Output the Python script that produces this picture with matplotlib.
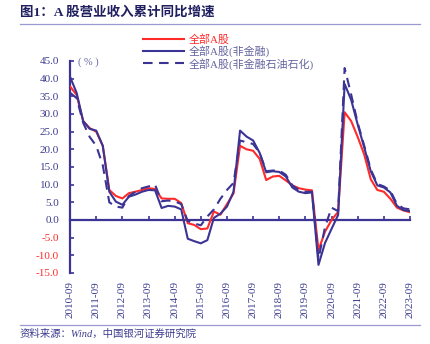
import numpy as np
import pandas as pd
import matplotlib
matplotlib.use("Agg")
import matplotlib.pyplot as plt
from matplotlib.lines import Line2D

plt.rcParams['font.family'] = ['Liberation Serif', 'Noto Sans CJK SC', 'DejaVu Sans']
plt.rcParams['axes.unicode_minus'] = True

# ---------------- data ----------------
quarters = [str(p.end_time.strftime('%Y-%m')) for p in pd.period_range('2010Q3', '2023Q3', freq='Q')]
series_names = ['全部A股', '全部A股(非金融)', '全部A股(非金融石油石化)']

all_a = [37.8, 35.4, 28.0, 26.0, 25.0, 21.0, 8.5, 6.8, 6.1, 7.6, 8.0, 8.5, 9.0, 8.8,
         6.1, 6.0, 6.0, 4.8, -0.9, -1.4, -2.6, -2.4, 2.4, 1.5, 4.5, 7.5,
         21.0, 20.0, 19.6, 17.3, 11.3, 12.3, 12.5, 11.2, 9.8, 9.0, 8.6, 8.4,
         -8.5, -3.3, 0.0, 2.3, 30.5, 28.0, 23.5, 18.5, 11.5, 8.5, 8.0, 6.0, 3.5, 2.7, 2.2]
non_fin = [40.5, 36.0, 28.0, 25.8, 25.3, 21.0, 8.0, 5.2, 4.3, 6.6, 7.2, 8.0, 8.5, 8.4,
           3.4, 4.0, 3.8, 3.0, -5.3, -6.0, -6.6, -5.7, 0.6, 1.8, 3.8, 8.0,
           25.3, 23.6, 22.5, 19.0, 13.5, 13.8, 13.6, 12.3, 9.2, 8.0, 7.6, 7.8,
           -12.7, -6.5, -2.5, 1.4, 38.5, 34.0, 27.0, 20.5, 13.8, 9.8, 9.2, 7.8, 4.0, 2.8, 2.5]
non_fin_ex_petro = [36.0, 34.5, 27.5, 23.5, 21.0, 15.5, 5.0, 3.8, 3.5, 6.8, 8.0, 9.0, 9.5, 10.0,
                    5.3, 5.5, 5.3, 4.5, -0.3, -1.0, -1.5, 1.0, 3.0, 6.0, 8.5, 10.5,
                    22.5, 22.0, 21.5, 19.0, 13.8, 14.0, 14.0, 12.8, 9.8, 8.5, 8.0, 8.0,
                    -11.0, -2.0, 3.5, 2.5, 43.0, 35.5, 27.5, 21.0, 14.3, 10.2, 9.5, 8.3, 4.5, 3.3, 3.0]
y_ticks = [-15, -10, -5, 0, 5, 10, 15, 20, 25, 30, 35, 40, 45]

# ---------------- style ----------------
RED = '#FF2A2A'
NAVY = '#3B3494'
TEXT_NAVY = '#3D3D8F'
LEG_GREY = '#6464A0'

fig = plt.figure(figsize=(4.3, 3.44), dpi=100)
ax = fig.add_axes([0.163, 0.2064, 0.7905, 0.6163])

x = np.arange(len(quarters))
ax.plot(x, all_a, color=RED, lw=1.5, label=series_names[0], zorder=3)
ax.plot(x, non_fin, color=NAVY, lw=1.5, label=series_names[1], zorder=4)
ax.plot(x, non_fin_ex_petro, color=NAVY, lw=1.5, ls=(0, (4.6, 3.1)),
        label=series_names[2], zorder=5)

ax.set_xlim(0, len(quarters) - 1)
ax.set_ylim(-15, 45)
ax.set_yticks(y_ticks)
ax.set_yticklabels([f'{v:.1f}' for v in y_ticks])
for lab, v in zip(ax.get_yticklabels(), y_ticks):
    lab.set_color(RED if v < 0 else TEXT_NAVY)
ax.tick_params(axis='y', direction='in', length=3, width=1.2, color=NAVY,
               labelsize=8, pad=8)

ax.set_xticks(x[::4])
ax.set_xticklabels([quarters[i] for i in range(0, len(quarters), 4)], rotation=90)
ax.tick_params(axis='x', length=0, pad=6, labelsize=8, labelcolor=TEXT_NAVY)

for s in ['top', 'right', 'bottom']:
    ax.spines[s].set_visible(False)
ax.spines['left'].set_color(NAVY)
ax.spines['left'].set_linewidth(1.6)

# zero line with year ticks
sec = ax.secondary_xaxis(15 / 60)
sec.set_xticks(x[::4])
sec.tick_params(axis='x', direction='in', length=3, width=1.2, color=NAVY,
                labelbottom=False, labeltop=False)
for s in sec.spines.values():
    s.set_color(NAVY)
    s.set_linewidth(1.6)

# legend
leg = fig.legend(loc='upper left', bbox_to_anchor=(143 / 430, 1 - 34 / 344),
                 frameon=False, fontsize=7.9, handlelength=3.7, handletextpad=0.5,
                 labelspacing=0.05, borderpad=0, borderaxespad=0,
                 labelcolor=[RED, LEG_GREY, LEG_GREY])

fig.text(78 / 430, 1 - 62 / 344, '( % )', fontsize=7.5, color=LEG_GREY, va='center')

# title and decorations
fig.text(20 / 430, 1 - 12 / 344, '图1：A 股营业收入累计同比增速', fontsize=9.7,
         fontweight='bold', color='#1F1F5F', va='center')
fig.add_artist(Line2D([20 / 430, 420 / 430], [1 - 24 / 344, 1 - 24 / 344],
                      color='#9A9AD0', lw=0.9))
fig.add_artist(Line2D([20 / 430, 420 / 430], [1 - 325 / 344, 1 - 325 / 344],
                      color='#9A9AD0', lw=0.9))
fig.text(20 / 430, 1 - 334 / 344, '资料来源：Wind，中国银河证券研究院', fontsize=7.5,
         style='italic', color=TEXT_NAVY, va='center')

fig.savefig('out.png', dpi=100)
